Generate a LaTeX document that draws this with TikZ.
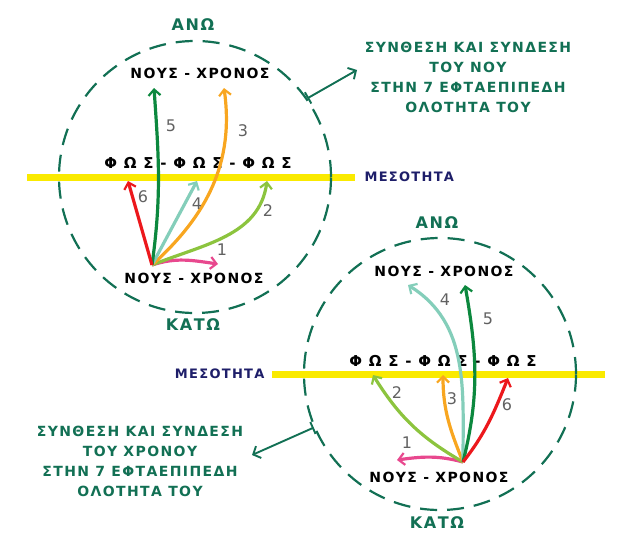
\documentclass[tikz,border=0pt]{standalone}
\usepackage{fontspec}
\usepackage{xcolor}
\usepackage{tikz}
\usetikzlibrary{
	arrows.meta,
	calc,
	positioning
}
\setmainfont{DejaVu Sans}
\newfontfamily\runefont[LetterSpace=10]{DejaVu Sans}
\newfontfamily\lightfont[LetterSpace=45]{DejaVu Sans}
\definecolor{RingGreen}{RGB}{18,112,84}
\definecolor{MidYellow}{RGB}{250,234,0}
\definecolor{NavyText}{RGB}{30,30,105}
\definecolor{PinkArc}{RGB}{232,72,142}
\definecolor{LimeArc}{RGB}{140,196,62}
\definecolor{OrangeArc}{RGB}{248,166,32}
\definecolor{TealArc}{RGB}{132,206,186}
\definecolor{ForestArc}{RGB}{12,136,62}
\definecolor{RedArc}{RGB}{236,24,28}

\begin{document}
\begin{tikzpicture}[x=1pt, y=1pt,
	ring/.style={circle, draw=RingGreen, line width=2.2pt, dash pattern=on 17pt off 10pt, minimum size=272pt, inner sep=0pt},
	mesoline/.style={MidYellow, line width=7pt},
	path/.style={line width=3.2pt, -{Straight Barb[length=6pt, width=12pt, line width=2.2pt]}},
	num/.style={font=\fontsize{16}{16}\selectfont, text=black!62},
	word/.style={font=\runefont\bfseries\fontsize{14}{14}\selectfont, text=black},
	light/.style={font=\lightfont\bfseries\fontsize{15}{15}\selectfont, text=black},
	tag/.style={font=\runefont\bfseries\fontsize{16}{16}\selectfont, text=RingGreen},
	note/.style={font=\runefont\bfseries\fontsize{14}{20}\selectfont, text=RingGreen, align=center},
	pointer/.style={RingGreen, line width=1.9pt, {Bar[width=13pt, line width=1.9pt]}-{Straight Barb[length=6pt, width=13pt, line width=1.9pt]}}
]
	\useasboundingbox (0,0) rectangle (639,-546);

	% upper circle
	\coordinate (y1a) at (27,-177);
	\coordinate (y1b) at (355,-177);
	\draw[mesoline] (y1a) -- (y1b);
	\node[ring] (ring1) at (195,-177) {};
	\node[anchor=west, font=\runefont\bfseries\fontsize{13}{13}\selectfont, text=NavyText] (meso1) at (361,-177) {ΜΕΣΟΤΗΤΑ};

	\node[tag] (ano1) at (193,-25) {ΑΝΩ};
	\node[tag] (kato1) at (193,-325) {ΚΑΤΩ};
	\node[word] (nous1t) at (200,-73) {ΝΟΥΣ - ΧΡΟΝΟΣ};
	\node[light] (fos1) at (198,-163) {ΦΩΣ-ΦΩΣ-ΦΩΣ};
	\node[word] (nous1b) at (194,-278) {ΝΟΥΣ - ΧΡΟΝΟΣ};

	\coordinate (A) at (152,-265);
	\coordinate (a1) at (218,-264);
	\coordinate (a2) at (267,-181);
	\coordinate (a3) at (224,-88);
	\coordinate (a4) at (197,-181);
	\coordinate (a5) at (154,-88);
	\coordinate (a6) at (128,-181);

	\draw[path, PinkArc] (A) to[out=18, in=172] (a1);
	\draw[path, LimeArc] (A) to[out=22, in=262] (a2);
	\draw[path, OrangeArc] (A) to[out=42, in=278] (a3);
	\draw[path, TealArc] (A) -- (a4);
	\draw[path, ForestArc] (A) to[out=82, in=274] (a5);
	\draw[path, RedArc] (A) -- (a6);

	\node[num] (n1a) at (222,-250) {1};
	\node[num] (n2a) at (268,-211) {2};
	\node[num] (n3a) at (243,-131) {3};
	\node[num] (n4a) at (197,-204) {4};
	\node[num] (n5a) at (171,-126) {5};
	\node[num] (n6a) at (143,-197) {6};

	\node[note] (text1) at (468,-77) {ΣΥΝΘΕΣΗ ΚΑΙ ΣΥΝΔΕΣΗ\\ΤΟΥ ΝΟΥ\\ΣΤΗΝ 7 ΕΦΤΑΕΠΙΠΕΔΗ\\ΟΛΟΤΗΤΑ ΤΟΥ};
	\coordinate (p1) at (357,-70);
	\draw[pointer] (ring1.35) -- (p1);

	% lower circle
	\coordinate (y2a) at (272,-374);
	\coordinate (y2b) at (605,-374);
	\draw[mesoline] (y2a) -- (y2b);
	\node[ring] (ring2) at (440,-374) {};
	\node[anchor=east, font=\runefont\bfseries\fontsize{13}{13}\selectfont, text=NavyText] (meso2) at (268,-374) {ΜΕΣΟΤΗΤΑ};

	\node[tag] (ano2) at (437,-223) {ΑΝΩ};
	\node[tag] (kato2) at (437,-523) {ΚΑΤΩ};
	\node[word] (nous2t) at (444,-271) {ΝΟΥΣ - ΧΡΟΝΟΣ};
	\node[light] (fos2) at (443,-361) {ΦΩΣ-ΦΩΣ-ΦΩΣ};
	\node[word] (nous2b) at (439,-477) {ΝΟΥΣ - ΧΡΟΝΟΣ};

	\coordinate (B) at (463,-462);
	\coordinate (b1) at (397,-460);
	\coordinate (b2) at (373,-375);
	\coordinate (b3) at (443,-375);
	\coordinate (b4) at (408,-285);
	\coordinate (b5) at (465,-285);
	\coordinate (b6) at (508,-378);

	\draw[path, PinkArc] (B) to[out=165, in=8] (b1);
	\draw[path, LimeArc] (B) to[out=150, in=-58] (b2);
	\draw[path, OrangeArc] (B) to[out=112, in=-90] (b3);
	\draw[path, TealArc] (B) to[out=90, in=-32] (b4);
	\draw[path, ForestArc] (B) to[out=76, in=-80] (b5);
	\draw[path, RedArc] (B) to[out=52, in=-112] (b6);

	\node[num] (n1b) at (407,-443) {1};
	\node[num] (n2b) at (397,-393) {2};
	\node[num] (n3b) at (452,-399) {3};
	\node[num] (n4b) at (445,-300) {4};
	\node[num] (n5b) at (488,-319) {5};
	\node[num] (n6b) at (507,-405) {6};

	\node[note] (text2) at (140,-461) {ΣΥΝΘΕΣΗ ΚΑΙ ΣΥΝΔΕΣΗ\\ΤΟΥ ΧΡΟΝΟΥ\\ΣΤΗΝ 7 ΕΦΤΑΕΠΙΠΕΔΗ\\ΟΛΟΤΗΤΑ ΤΟΥ};
	\coordinate (p2) at (252,-455);
	\draw[pointer] (ring2.203) -- (p2);
\end{tikzpicture}
\end{document}
